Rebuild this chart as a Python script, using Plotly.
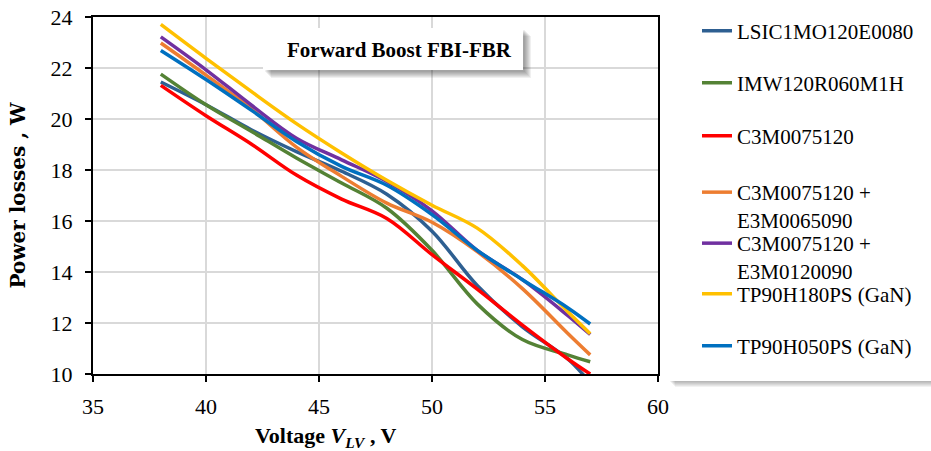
import plotly.graph_objects as go

# ---- data ----
voltage = [38, 40, 42, 44, 46, 48, 50, 52, 54, 56, 57]
lsic1mo120e0080 = [21.45, 20.56, 19.58, 18.72, 17.95, 17.05, 15.6, 13.47, 11.85, 10.6, 9.65]
imw120r060m1h = [21.76, 20.56, 19.52, 18.47, 17.49, 16.5, 14.85, 12.75, 11.35, 10.75, 10.48]
c3m0075120 = [21.32, 20.13, 19.02, 17.8, 16.86, 16.1, 14.68, 13.33, 11.92, 10.6, 10.0]
c3m_e3m0065090 = [22.98, 21.72, 20.4, 18.9, 17.75, 16.7, 15.95, 14.8, 13.35, 11.6, 10.75]
c3m_e3m0120090 = [23.22, 21.93, 20.55, 19.25, 18.4, 17.55, 16.4, 14.85, 13.7, 12.3, 11.55]
tp90h180ps = [23.71, 22.38, 21.08, 19.82, 18.67, 17.6, 16.62, 15.72, 14.25, 12.45, 11.58]
tp90h050ps = [22.69, 21.55, 20.35, 19.12, 18.14, 17.4, 16.25, 14.85, 13.7, 12.6, 11.96]

series_names = [
    "LSIC1MO120E0080",
    "IMW120R060M1H",
    "C3M0075120",
    "C3M0075120 +<br>E3M0065090",
    "C3M0075120 +<br>E3M0120090",
    "TP90H180PS (GaN)",
    "TP90H050PS (GaN)",
]
series_values = [lsic1mo120e0080, imw120r060m1h, c3m0075120, c3m_e3m0065090,
                 c3m_e3m0120090, tp90h180ps, tp90h050ps]
series_colors = ["#2E5F91", "#548235", "#FF0000", "#ED7D31", "#7030A0", "#FFC000", "#0070C0"]

x_ticks = [35, 40, 45, 50, 55, 60]
y_ticks = [10, 12, 14, 16, 18, 20, 22, 24]

# ---- layout helpers (pixel -> paper) ----
L, R, T, B = 93, 658, 17, 374
W, H = 931, 451
def px(x):
    return (x - L) / (R - L)
def py(y):
    return (B - y) / (B - T)

SERIF = "Liberation Serif"

fig = go.Figure()

legend_keys = ["legend", "legend2", "legend3", "legend4", "legend5", "legend6", "legend7"]
legend_sym_y = [31, 83, 136, 186, 237, 294, 346]

for name, vals, col, lk in zip(series_names, series_values, series_colors, legend_keys):
    fig.add_trace(go.Scatter(
        x=voltage, y=vals, name=name, mode="lines",
        line=dict(color=col, width=3.5, shape="spline", smoothing=1.0),
        legend=lk,
    ))

legend_layouts = {}
for lk, sy, name in zip(legend_keys, legend_sym_y, series_names):
    two = "<br>" in name
    legend_layouts[lk] = dict(
        x=px(697), xanchor="left",
        y=py(sy - 14) if two else py(sy), yanchor="top" if two else "middle",
        valign="top",
        bgcolor="rgba(0,0,0,0)", borderwidth=0,
        font=dict(family=SERIF, size=21, color="black"),
    )

shapes = []
# legend box shadow
for k in range(1, 8):
    shapes.append(dict(type="rect", xref="paper", yref="paper",
                       x0=px(668 + k), x1=px(940), y0=py(380 + k), y1=py(370),
                       fillcolor="rgba(0,0,0,0.05)", line=dict(width=0), layer="above"))
shapes.append(dict(type="rect", xref="paper", yref="paper",
                   x0=px(665), x1=px(940), y0=py(381), y1=py(15),
                   fillcolor="white", line=dict(width=0), layer="above"))
# title box shadow
for k in range(2, 9):
    shapes.append(dict(type="rect", xref="paper", yref="paper",
                       x0=px(263 + k), x1=px(523 + k), y0=py(70 + k), y1=py(28 + k),
                       fillcolor="rgba(0,0,0,0.06)", line=dict(width=0), layer="above"))
shapes.append(dict(type="rect", xref="paper", yref="paper",
                   x0=px(263), x1=px(523), y0=py(70), y1=py(28),
                   fillcolor="white", line=dict(width=0), layer="above"))

annotations = [
    dict(text="<b>Forward Boost FBI-FBR</b>", xref="paper", yref="paper",
         x=px(399), y=py(50), xanchor="center", yanchor="middle", showarrow=False,
         font=dict(family=SERIF, size=21, color="black")),
    dict(text="<b>Voltage <i>V<sub>LV</sub></i> , V</b>", xref="paper", yref="paper",
         x=px(325), y=py(437), xanchor="center", yanchor="middle", showarrow=False,
         font=dict(family=SERIF, size=22, color="black")),
]

axis_common = dict(
    showline=True, linecolor="black", linewidth=2, mirror=True,
    ticks="outside", ticklen=6, tickwidth=2, tickcolor="black",
    showgrid=True, gridcolor="#D9D9D9", gridwidth=1.5, zeroline=False,
    tickfont=dict(family=SERIF, size=22, color="black"),
    automargin=False,
)

fig.update_layout(
    width=W, height=H,
    margin=dict(l=L, r=W - R, t=T, b=H - B, autoexpand=False),
    paper_bgcolor="white", plot_bgcolor="white",
    showlegend=True,
    xaxis=dict(range=[35, 60], tickvals=x_ticks, ticklabelstandoff=6, **axis_common),
    yaxis=dict(range=[10, 24], tickvals=y_ticks, ticklabelstandoff=8,
               title=dict(text="<b>Power losses , W</b>", standoff=20,
                          font=dict(family="DejaVu Serif", size=20, color="black")),
               **axis_common),
    shapes=shapes,
    annotations=annotations,
    **legend_layouts,
)

fig.write_html("out.html", config={"displayModeBar": False},
               post_script="document.body.style.margin='0';document.body.style.padding='0';")
